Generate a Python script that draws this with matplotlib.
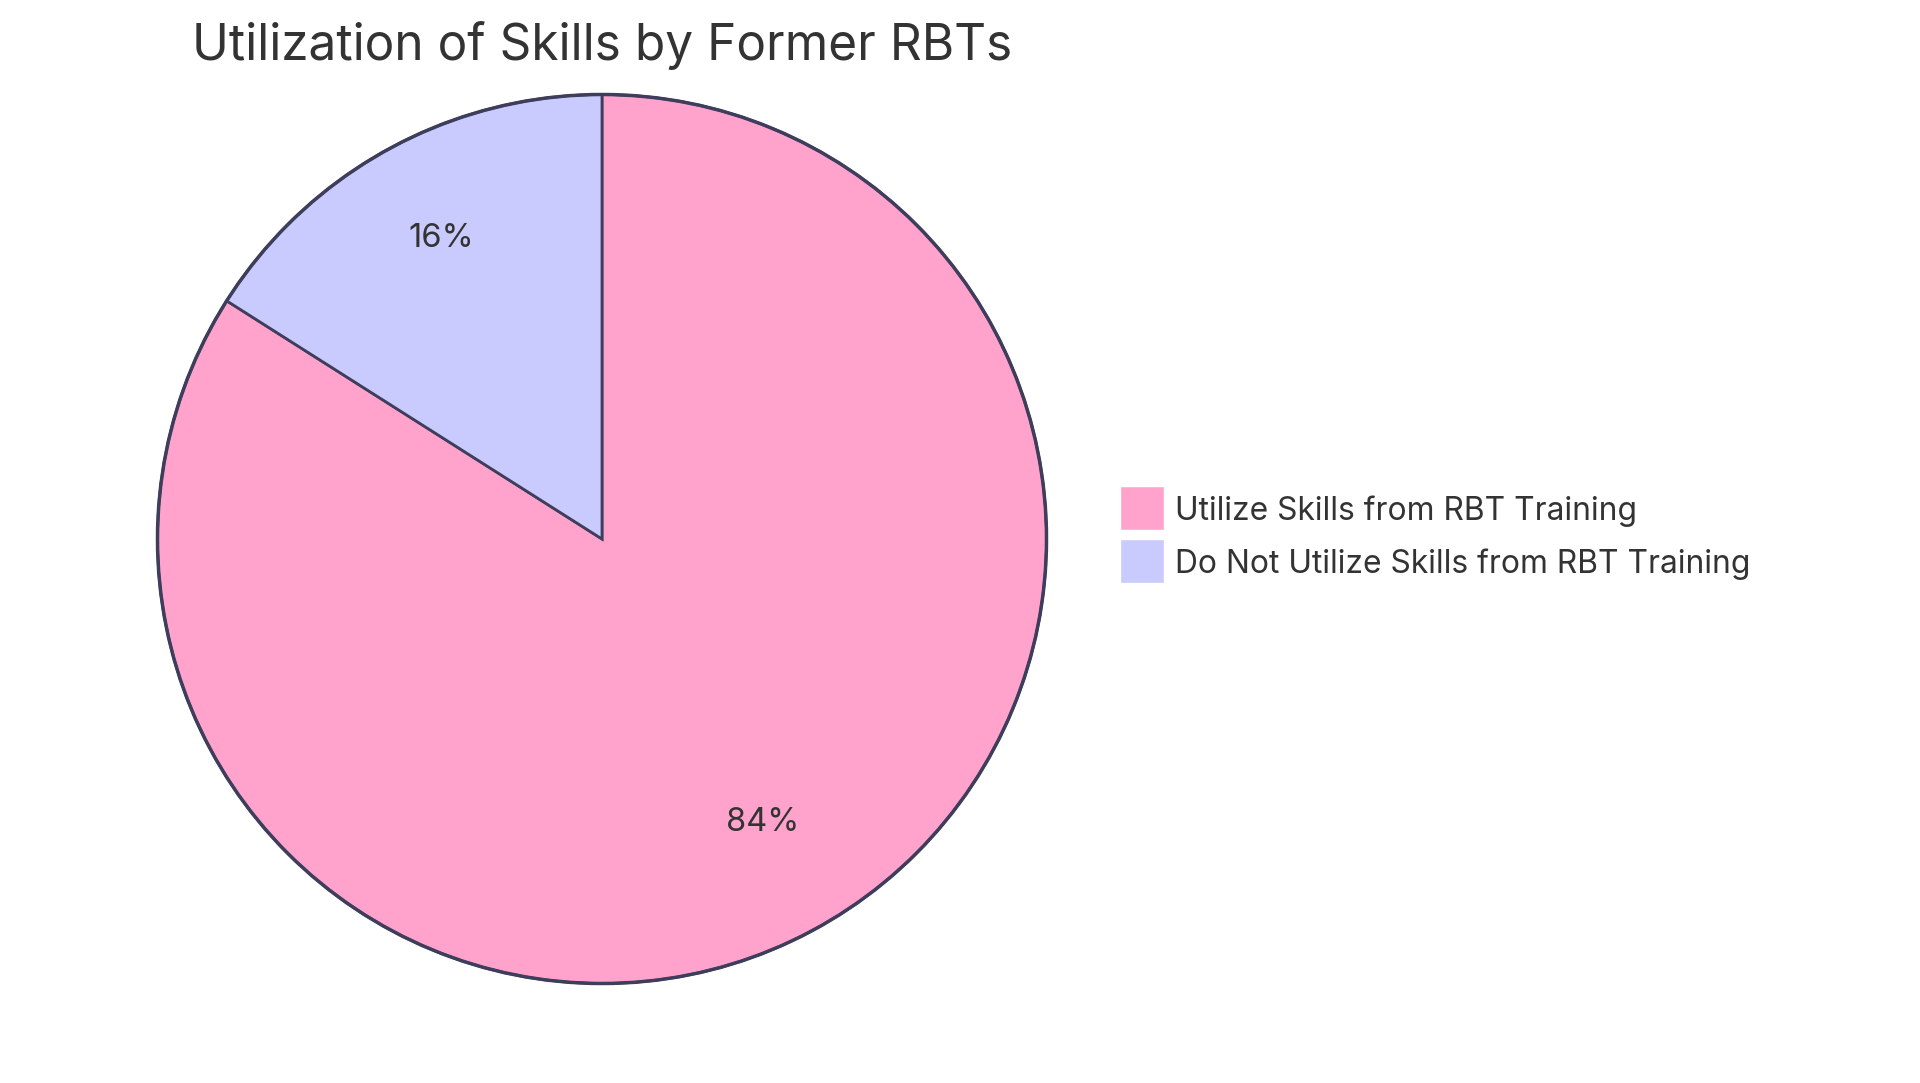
import matplotlib
matplotlib.use("Agg")
import matplotlib.pyplot as plt
from matplotlib.patches import Rectangle, Circle

# Chart data
title = "Utilization of Skills by Former RBTs"
labels = ["Utilize Skills from RBT Training", "Do Not Utilize Skills from RBT Training"]
values = [84, 16]
colors = ["#FFA3CD", "#C9CAFE"]

W, H = 1920, 1083
edge = "#3E3E5C"
txt = "#333333"
plt.rcParams['font.family'] = ['Inter', 'DejaVu Sans']

fig = plt.figure(figsize=(W / 100, H / 100), dpi=100)
fig.patch.set_facecolor("white")

# pie centre (602, 539) px, radius 444.5 px
cx, cy, r = 602, 539, 444.5
ax = fig.add_axes([(cx - r) / W, (H - cy - r) / H, 2 * r / W, 2 * r / H])
wedges, texts, autotexts = ax.pie(
    values, colors=colors, startangle=90, counterclock=False,
    autopct=lambda p: "{:.0f}%".format(p), pctdistance=0.75,
    wedgeprops=dict(edgecolor=edge, linewidth=2),
    textprops=dict(color=txt, fontsize=23.5))
for t in autotexts:
    t.set_va("baseline")
for w in wedges:
    w.set_clip_on(False)
ax.add_patch(Circle((0, 0), 1, fill=False, edgecolor=edge, linewidth=2.5,
                    clip_on=False))
ax.set_xlim(-1, 1)
ax.set_ylim(-1, 1)
ax.axis("off")

fig.text(192 / W, 1 - 46 / H, title, fontsize=35.7, color=txt, ha="left", va="center")

# legend
sq = 44
tops = [486, 539]
for lab, col, top in zip(labels, colors, tops):
    fig.add_artist(Rectangle((1120 / W, 1 - (top + sq) / H), sq / W, sq / H,
                             transform=fig.transFigure, facecolor=col,
                             edgecolor="white", linewidth=1))
    fig.text(1175 / W, 1 - (top + sq / 2 + 3) / H, lab, fontsize=22.9, color=txt,
             ha="left", va="center")

fig.savefig("out.png", dpi=100)
